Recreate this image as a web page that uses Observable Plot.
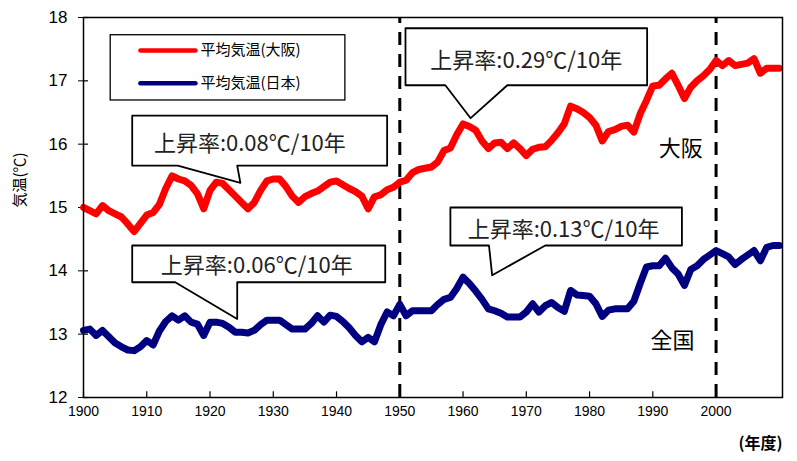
<!DOCTYPE html>
<html>
<head>
<meta charset="utf-8">
<script src="https://cdn.jsdelivr.net/npm/d3@7"></script>
<script src="https://cdn.jsdelivr.net/npm/@observablehq/plot@0.6"></script>
<style>
  html, body { margin: 0; padding: 0; background: white; }
</style>
</head>
<body>
<div id="chart"></div>
<script>
// ---- data ----
const startYear = 1900;
const osaka = [
  15.00,14.95,14.90,15.03,14.95,14.90,14.85,14.74,14.62,14.75,
  14.88,14.92,15.05,15.30,15.50,15.45,15.42,15.35,15.22,14.98,
  15.27,15.40,15.38,15.28,15.18,15.08,14.98,15.08,15.27,15.42,
  15.45,15.45,15.33,15.18,15.08,15.17,15.22,15.26,15.33,15.40,
  15.42,15.36,15.30,15.25,15.18,14.98,15.17,15.20,15.28,15.32,
  15.40,15.43,15.55,15.60,15.62,15.64,15.72,15.90,15.94,16.15,
  16.32,16.28,16.22,16.05,15.93,16.02,16.03,15.93,16.02,15.93,
  15.82,15.92,15.95,15.96,16.06,16.18,16.32,16.60,16.56,16.50,
  16.42,16.30,16.05,16.20,16.23,16.28,16.30,16.19,16.48,16.69,
  16.92,16.93,17.03,17.12,16.93,16.72,16.90,17.00,17.08,17.18,
  17.32,17.24,17.32,17.24,17.26,17.28,17.35,17.12,17.20,17.20,
  17.20
];
const japan = [
  13.06,13.08,12.98,13.06,12.96,12.86,12.80,12.75,12.74,12.80,
  12.90,12.83,13.05,13.20,13.29,13.22,13.29,13.19,13.16,12.98,
  13.19,13.19,13.17,13.11,13.03,13.03,13.02,13.06,13.15,13.22,
  13.22,13.22,13.15,13.08,13.08,13.08,13.17,13.29,13.19,13.30,
  13.28,13.20,13.10,12.98,12.88,12.95,12.88,13.15,13.35,13.29,
  13.47,13.29,13.37,13.37,13.37,13.37,13.47,13.55,13.58,13.72,
  13.90,13.80,13.68,13.55,13.40,13.37,13.33,13.27,13.27,13.27,
  13.35,13.48,13.35,13.45,13.50,13.42,13.36,13.69,13.62,13.61,
  13.60,13.48,13.28,13.38,13.40,13.40,13.40,13.52,13.80,14.06,
  14.08,14.08,14.20,14.05,13.95,13.77,14.02,14.08,14.18,14.25,
  14.32,14.27,14.22,14.10,14.18,14.25,14.32,14.16,14.37,14.40,
  14.40
];
const xTicks = [1900,1910,1920,1930,1940,1950,1960,1970,1980,1990,2000];
const yTicks = [12,13,14,15,16,17,18];
const dividerYears = [1950, 2000];

const seriesNames = ["平均気温(大阪)", "平均気温(日本)"];
const seriesColors = ["#ff0000", "#000080"];

// callouts: text, box [x1, x2, yBottom, yTop], tail [baseLeft, baseRight, tipX, tipY], text anchor [x, y]
const calloutTexts = ["上昇率:0.08℃/10年", "上昇率:0.29℃/10年", "上昇率:0.06℃/10年", "上昇率:0.13℃/10年"];
const calloutBoxes = [
  [1907.7, 1948.0, 15.66, 16.45],
  [1950.9, 1989.1, 16.93, 17.83],
  [1907.7, 1947.7, 13.82, 14.40],
  [1958.0, 1994.6, 14.40, 15.00]
];
const calloutTails = [
  [1914.9, 1924.3, 1924.8, 15.39],
  [1957.2, 1967.0, 1961.2, 16.41],
  [1914.5, 1924.3, 1924.3, 13.24],
  [1964.1, 1973.0, 1964.6, 13.93]
];
const calloutTextPos = [
  [1926.3, 16.01],
  [1970.0, 17.32],
  [1927.4, 14.07],
  [1975.9, 14.65]
];

const regionLabels = ["大阪", "全国"];
const regionLabelPos = [[1994.4, 15.92], [1993.1, 12.90]];

// legend (in data units)
const legendBox = [1904.3, 1941.4, 16.69, 17.72];
const legendRows = [17.48, 16.96];
const legendLineX = [1909.0, 1917.7];
const legendTextX = 1918.5;

// ---- build tables ----
const rows = [];
osaka.forEach((v, i) => rows.push({year: startYear + i, temp: v, s: seriesNames[0]}));
japan.forEach((v, i) => rows.push({year: startYear + i, temp: v, s: seriesNames[1]}));

const polys = [];
calloutBoxes.forEach((b, i) => {
  const [x1, x2, yb, yt] = b;
  const [bl, br, tx, ty] = calloutTails[i];
  [[x1, yt], [x2, yt], [x2, yb], [br, yb], [tx, ty], [bl, yb], [x1, yb]]
    .forEach(([x, y]) => polys.push({id: i, x, y}));
});
const calloutLabels = calloutTexts.map((t, i) => ({t, x: calloutTextPos[i][0], y: calloutTextPos[i][1]}));
const regionData = regionLabels.map((t, i) => ({t, x: regionLabelPos[i][0], y: regionLabelPos[i][1]}));
const legendLines = [];
seriesNames.forEach((n, i) => {
  legendLines.push({s: n, x: legendLineX[0], y: legendRows[i]});
  legendLines.push({s: n, x: legendLineX[1], y: legendRows[i]});
});
const legendTexts = seriesNames.map((n, i) => ({t: n, x: legendTextX, y: legendRows[i]}));

const cjk = "'Noto Sans CJK JP', 'Noto Sans', sans-serif";

const chart = Plot.plot({
  width: 797,
  height: 461,
  marginLeft: 83,
  marginRight: 15,
  marginTop: 17,
  marginBottom: 64,
  style: {fontFamily: "'Liberation Sans', Arial, sans-serif", background: "white", color: "black"},
  x: {domain: [1900, 2010.5]},
  y: {domain: [12, 18]},
  color: {domain: seriesNames, range: seriesColors},
  marks: [
    Plot.axisX({ticks: xTicks, tickSize: 0, tickPadding: 9, tickFormat: d => String(d), fontSize: 14, label: null}),
    Plot.axisY({ticks: yTicks, tickSize: 5, tickPadding: 11, tickFormat: d => String(d), fontSize: 17, label: null}),
    Plot.ruleX(xTicks, {y1: 12, y2: 12.09, stroke: "black", strokeWidth: 1.2}),
    Plot.ruleY(yTicks, {x1: 1900, x2: 1900.8, stroke: "black", strokeWidth: 1.2}),
    Plot.text(["気温(℃)"], {frameAnchor: "left", dx: -63, rotate: -90, fontSize: 15, fontFamily: cjk}),
    Plot.text(["(年度)"], {frameAnchor: "bottom-right", dy: 51, textAnchor: "end", fontSize: 16, fontWeight: "bold", fontFamily: cjk}),
    Plot.ruleX(dividerYears, {y1: 12, y2: 18, stroke: "black", strokeWidth: 3, strokeDasharray: "13,9"}),
    Plot.line(rows, {x: "year", y: "temp", z: "s", stroke: "s", strokeWidth: 7, strokeLinejoin: "round"}),
    Plot.line(polys, {x: "x", y: "y", z: "id", curve: "linear-closed", fill: "white", stroke: "black", strokeWidth: 1.8}),
    Plot.text(calloutLabels, {x: "x", y: "y", text: "t", fontSize: 22, fontFamily: cjk, fill: "#222"}),
    Plot.text(regionData, {x: "x", y: "y", text: "t", fontSize: 22, fontFamily: cjk, fill: "black"}),
    Plot.rect([legendBox], {x1: d => d[0], x2: d => d[1], y1: d => d[2], y2: d => d[3], fill: "white", stroke: "black", strokeWidth: 1.3}),
    Plot.line(legendLines, {x: "x", y: "y", z: "s", stroke: "s", strokeWidth: 4.5}),
    Plot.text(legendTexts, {x: "x", y: "y", text: "t", textAnchor: "start", fontSize: 15, fontFamily: cjk, fill: "black"}),
    Plot.frame({stroke: "black", strokeWidth: 1.5})
  ]
});
document.getElementById("chart").append(chart);
</script>
</body>
</html>
